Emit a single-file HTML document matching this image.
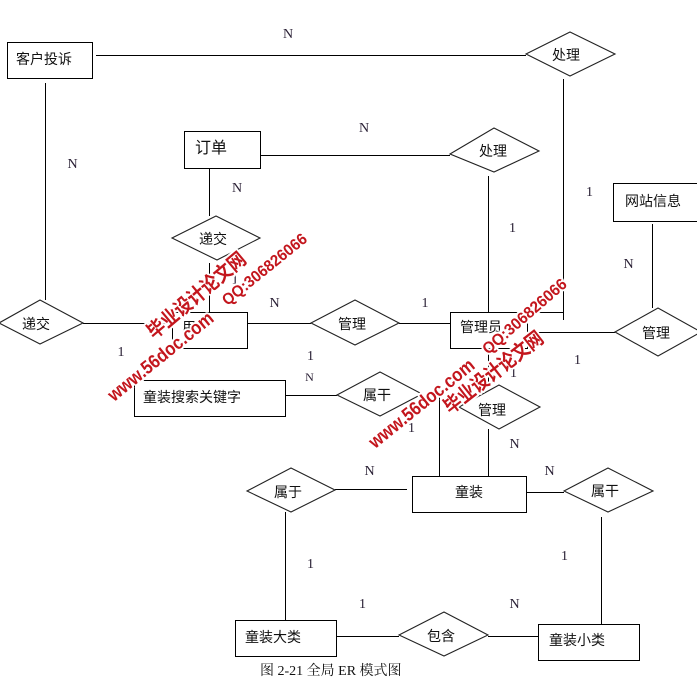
<!DOCTYPE html>
<html><head><meta charset="utf-8"><style>
html,body{margin:0;padding:0;background:#fff;}
svg{display:block;}
.c{font-family:"Liberation Sans","Noto Sans CJK SC",sans-serif;font-size:14px;fill:#111;}
.l{font-family:"Liberation Serif","Noto Serif CJK SC",serif;font-size:14px;fill:#2a2035;text-anchor:middle;}
.m{text-anchor:middle;}
.wm{font-family:"Liberation Sans","Noto Sans CJK SC",sans-serif;font-weight:bold;fill:#c3161d;stroke:#fff;stroke-width:4;paint-order:stroke;stroke-linejoin:round;text-anchor:middle;dominant-baseline:central;}
</style></head><body>
<svg width="697" height="696" viewBox="0 0 697 696" xmlns="http://www.w3.org/2000/svg">
<g stroke="#000" stroke-width="1.2" fill="none" shape-rendering="crispEdges">
<rect x="7.5" y="42.5" width="85" height="36"/>
<rect x="184.5" y="131.5" width="76" height="37"/>
<rect x="613.5" y="183.5" width="92" height="38"/>
<rect x="172.5" y="312.5" width="75" height="36"/>
<rect x="450.5" y="312.5" width="77" height="36"/>
<rect x="134.5" y="380.5" width="151" height="36"/>
<rect x="412.5" y="476.5" width="114" height="36"/>
<rect x="235.5" y="620.5" width="101" height="36"/>
<rect x="538.5" y="624.5" width="101" height="36"/>
<line x1="96" y1="55.5" x2="526" y2="55.5"/>
<line x1="45.5" y1="83" x2="45.5" y2="300"/>
<line x1="563.5" y1="79" x2="563.5" y2="320"/>
<line x1="527" y1="312.5" x2="563.5" y2="312.5"/>
<line x1="260" y1="155.5" x2="450" y2="155.5"/>
<line x1="488.5" y1="176" x2="488.5" y2="312"/>
<line x1="652.5" y1="224" x2="652.5" y2="308"/>
<line x1="209.5" y1="168" x2="209.5" y2="216"/>
<line x1="209.5" y1="263" x2="209.5" y2="312"/>
<line x1="83" y1="323.5" x2="172" y2="323.5"/>
<line x1="247" y1="323.5" x2="311" y2="323.5"/>
<line x1="399" y1="323.5" x2="450" y2="323.5"/>
<line x1="527" y1="332.5" x2="615" y2="332.5"/>
<line x1="285" y1="395.5" x2="337" y2="395.5"/>
<line x1="439.5" y1="397" x2="439.5" y2="476"/>
<line x1="488.5" y1="348" x2="488.5" y2="386"/>
<line x1="488.5" y1="429" x2="488.5" y2="476"/>
<line x1="335" y1="489.5" x2="407" y2="489.5"/>
<line x1="285.5" y1="512" x2="285.5" y2="620"/>
<line x1="526" y1="492.5" x2="564" y2="492.5"/>
<line x1="601.5" y1="517" x2="601.5" y2="624"/>
<line x1="336" y1="636.5" x2="399" y2="636.5"/>
<line x1="488" y1="636.5" x2="538" y2="636.5"/>
</g>
<g stroke="#222" stroke-width="1.1" fill="#fff">
<polygon points="526,54 570,32 615,54 570,76"/>
<polygon points="450,154 494,128 539,151 494,172"/>
<polygon points="172,238 216,216 260,238 217,260"/>
<polygon points="-1,323 40,300 83,323 40,344"/>
<polygon points="311,323 355,300 399,323 355,345"/>
<polygon points="615,332 658,308 701,332 658,356"/>
<polygon points="337,395 380,372 422,394 380,416"/>
<polygon points="459,407 499,385 540,407 499,429"/>
<polygon points="247,491 291,468 335,490 291,512"/>
<polygon points="564,491 608,468 653,491 608,512"/>
<polygon points="399,635 444,612 488,635 444,656"/>
</g>
<text class="c" x="16" y="64">客户投诉</text>
<text class="c" x="195" y="153" style="font-size:16px">订单</text>
<text class="c" x="625" y="206">网站信息</text>
<text class="c" x="182" y="332">用户</text>
<text class="c" x="460" y="332">管理员</text>
<text class="c" x="143" y="402">童装搜索关键字</text>
<text class="c" x="455" y="497">童装</text>
<text class="c" x="245" y="642">童装大类</text>
<text class="c" x="549" y="645">童装小类</text>
<text class="c m" x="566" y="60">处理</text>
<text class="c m" x="493" y="156">处理</text>
<text class="c m" x="213" y="244">递交</text>
<text class="c m" x="36" y="329">递交</text>
<text class="c m" x="352" y="329">管理</text>
<text class="c m" x="656" y="338">管理</text>
<text class="c m" x="377" y="400">属干</text>
<text class="c m" x="492" y="415">管理</text>
<text class="c m" x="288" y="497">属于</text>
<text class="c m" x="605" y="496">属干</text>
<text class="c m" x="441" y="641">包含</text>
<text class="l" x="288" y="38">N</text>
<text class="l" x="72.5" y="168">N</text>
<text class="l" x="237" y="192">N</text>
<text class="l" x="364" y="132">N</text>
<text class="l" x="589.5" y="196">1</text>
<text class="l" x="512.5" y="232">1</text>
<text class="l" x="628.5" y="268">N</text>
<text class="l" x="235" y="284">1</text>
<text class="l" x="274.5" y="307">N</text>
<text class="l" x="121" y="356">1</text>
<text class="l" x="310.5" y="360">1</text>
<text class="l" x="309.5" y="381" style="font-size:12px">N</text>
<text class="l" x="425" y="307">1</text>
<text class="l" x="577.5" y="364">1</text>
<text class="l" x="513.5" y="377">1</text>
<text class="l" x="411.5" y="432">1</text>
<text class="l" x="514.5" y="448">N</text>
<text class="l" x="369.5" y="475">N</text>
<text class="l" x="549.5" y="475">N</text>
<text class="l" x="310.5" y="568">1</text>
<text class="l" x="564.5" y="560">1</text>
<text class="l" x="362.5" y="608">1</text>
<text class="l" x="514.5" y="608">N</text>
<text x="260" y="675" style="font-family:'Liberation Serif','Noto Serif CJK SC',serif;font-size:14px;fill:#111">图 2-21 全局 ER 模式图</text>
<text class="wm" transform="translate(197,296) rotate(-40)" style="font-size:20px" textLength="122" lengthAdjust="spacingAndGlyphs">毕业设计论文网</text>
<text class="wm" transform="translate(161,357) rotate(-39)" style="font-size:19px" textLength="130" lengthAdjust="spacingAndGlyphs">www.56doc.com</text>
<text class="wm" transform="translate(265,270) rotate(-39)" style="font-size:16px" textLength="104" lengthAdjust="spacingAndGlyphs">QQ:306826066</text>
<text class="wm" transform="translate(494,373) rotate(-38)" style="font-size:20px" textLength="120" lengthAdjust="spacingAndGlyphs">毕业设计论文网</text>
<text class="wm" transform="translate(422,404) rotate(-39)" style="font-size:19px" textLength="130" lengthAdjust="spacingAndGlyphs">www.56doc.com</text>
<text class="wm" transform="translate(525,317) rotate(-41)" style="font-size:16px" textLength="106" lengthAdjust="spacingAndGlyphs">QQ:306826066</text>
</svg>
</body></html>
